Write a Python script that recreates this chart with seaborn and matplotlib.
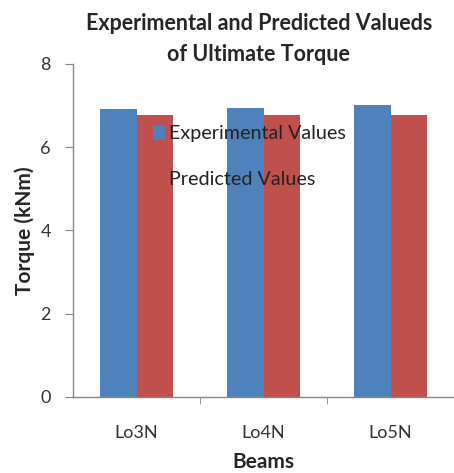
import matplotlib
matplotlib.use("Agg")
import matplotlib.pyplot as plt
import pandas as pd
import seaborn as sns

beams = ["Lo3N", "Lo4N", "Lo5N"]
experimental = [6.92, 6.95, 7.0]
predicted = [6.77, 6.77, 6.77]
series = ["Experimental Values", "Predicted Values"]
colors = ["#4F81BD", "#C0504D"]

df = pd.DataFrame({
    "Beams": beams * 2,
    "Torque": experimental + predicted,
    "Series": [series[0]] * 3 + [series[1]] * 3,
})

sns.set_style("white")
plt.rcParams["font.family"] = ["Lato", "DejaVu Sans"]

fig = plt.figure(figsize=(4.54, 4.73), dpi=100)
ax = fig.add_axes([0.161, 0.161, 0.839, 0.704])

sns.barplot(data=df, x="Beams", y="Torque", hue="Series", hue_order=series,
            palette=colors, width=0.57, saturation=1, linewidth=0, ax=ax)

ax.set_xlim(-0.5, 2.5)
ax.set_ylim(0, 8)
ax.set_yticks([0, 2, 4, 6, 8])
ax.tick_params(axis="y", labelsize=13, length=6, color="#868686", direction="out",
               left=True, pad=10, labelcolor="#333333")
ax.tick_params(axis="x", which="major", length=0, labelsize=13, pad=20, labelcolor="#333333")
ax.set_xticks([0.5, 1.5], minor=True)
ax.tick_params(axis="x", which="minor", length=5, color="#868686", direction="out", bottom=True)

for s in ["top", "right"]:
    ax.spines[s].set_visible(False)
for s in ["left", "bottom"]:
    ax.spines[s].set_color("#868686")
    ax.spines[s].set_linewidth(1)

ax.set_xlabel("Beams", fontsize=15, fontweight="bold", labelpad=8)
ax.set_ylabel("Torque (kNm)", fontsize=15, fontweight="bold", labelpad=4)

fig.suptitle("Experimental and Predicted Valueds\nof Ultimate Torque", x=0.57, y=0.972,
             fontsize=15.5, fontweight="bold", linespacing=1.6)

ax.legend(loc="upper left", bbox_to_anchor=(0.162, 0.87), frameon=False, fontsize=14.2,
          handlelength=0.65, handleheight=0.8, handletextpad=0.2, labelspacing=1.45,
          labelcolor="#222222")

fig.savefig("out.png", dpi=100)
